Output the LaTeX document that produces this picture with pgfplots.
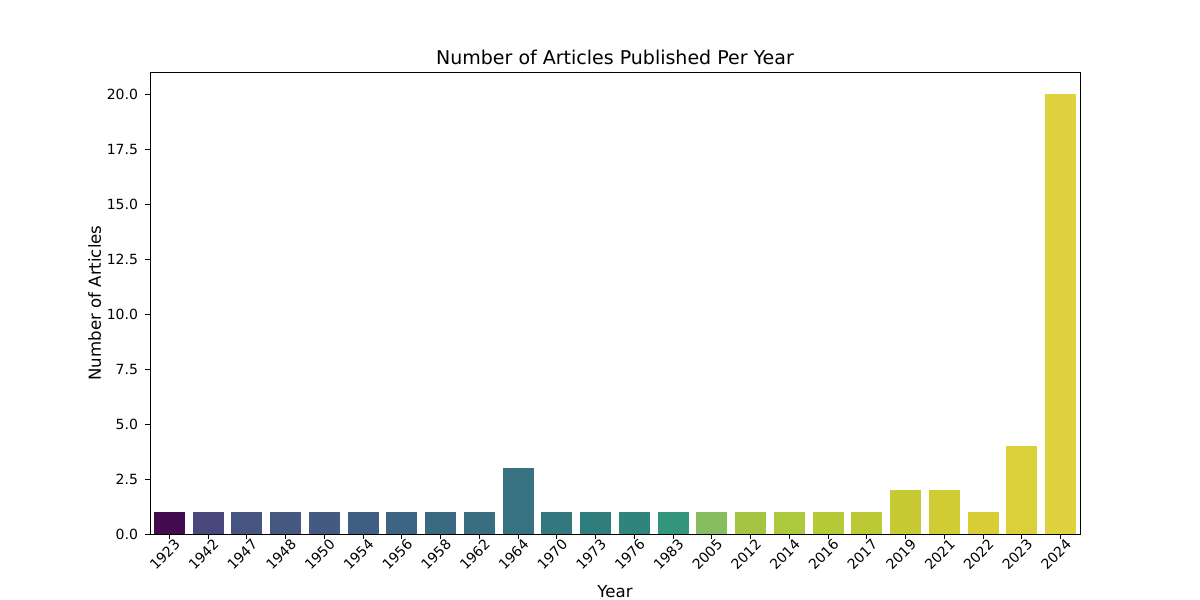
\documentclass[border=0pt]{standalone}
\usepackage{pgfplots}
\pgfplotsset{compat=1.18}
\usepackage{fontspec}
\setmainfont{DejaVu Sans}
\begin{document}
\begin{tikzpicture}[x=1pt,y=1pt]
\path[use as bounding box] (-75,-33) rectangle (525,267);
\begin{axis}[at={(0,0)},anchor=south west,scale only axis,width=465pt,height=231pt,
 ybar, bar width=0.8, bar shift=0pt,
 xmin=-0.5,xmax=23.5,ymin=0,ymax=21,
 xtick={0,...,23},
 xticklabels={1923,1942,1947,1948,1950,1954,1956,1958,1962,1964,1970,1973,1976,1983,2005,2012,2014,2016,2017,2019,2021,2022,2023,2024},
 xticklabel style={rotate=45,anchor=north east,inner sep=1pt,xshift=3pt},
 ytick={0,2.5,...,20},
 /pgf/number format/assume math mode=true,
 /pgf/number format/fixed,/pgf/number format/fixed zerofill,/pgf/number format/precision=1,
 tick label style={font=\fontsize{7}{8}\selectfont},
 tick align=outside, tick style={black,line width=0.4pt}, major tick length=2.5pt,
 xtick pos=bottom, ytick pos=left,
 title={Number of Articles Published Per Year}, title style={font=\fontsize{9.5}{10}\selectfont,yshift=-6pt},
 xlabel={Year}, ylabel={Number of Articles},
 label style={font=\fontsize{8.3}{9}\selectfont},
 xlabel style={yshift=-2.5pt}, ylabel style={yshift=-4pt},
 axis line style={line width=0.4pt}]
\def\B#1#2#3{\definecolor{c#1}{HTML}{#3}\addplot[fill=c#1,draw=none] coordinates {(#1,#2)};}
\B{0}{1}{420C4F}
\B{1}{1}{4A477D}
\B{2}{1}{46557F}
\B{3}{1}{465880}
\B{4}{1}{455A80}
\B{5}{1}{3E5F81}
\B{6}{1}{3D6482}
\B{7}{1}{3A6A82}
\B{8}{1}{386E80}
\B{9}{3}{36727F}
\B{10}{1}{33777F}
\B{11}{1}{307D7E}
\B{12}{1}{2F857D}
\B{13}{1}{33967B}
\B{14}{1}{86BE5F}
\B{15}{1}{A5C444}
\B{16}{1}{ACC83D}
\B{17}{1}{B6C936}
\B{18}{1}{BCC834}
\B{19}{2}{C8CA33}
\B{20}{2}{D0CC33}
\B{21}{1}{D7CD36}
\B{22}{4}{DCD03A}
\B{23}{20}{E0D23E}
\end{axis}
\end{tikzpicture}
\end{document}
